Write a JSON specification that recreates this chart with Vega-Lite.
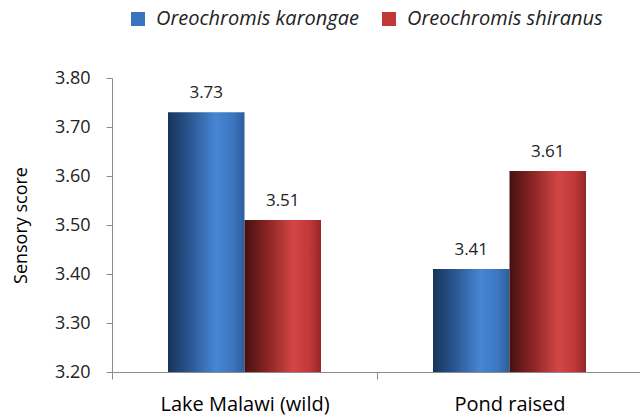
{
  "$schema": "https://vega.github.io/schema/vega-lite/v6.json",
  "width": 530,
  "height": 294,
  "autosize": {"type": "none"},
  "padding": {"left": 112, "top": 78, "right": 0, "bottom": 45},
  "config": {
    "view": {"stroke": null},
    "font": "Open Sans",
    "axis": {"grid": false, "domainColor": "#8c8c8c", "tickColor": "#8c8c8c", "labelColor": "#222222", "titleColor": "#000000"}
  },
  "data": {"values": [
    {"group": "Lake Malawi (wild)", "species": "Oreochromis karongae", "score": 3.73},
    {"group": "Lake Malawi (wild)", "species": "Oreochromis shiranus", "score": 3.51},
    {"group": "Pond raised", "species": "Oreochromis karongae", "score": 3.41},
    {"group": "Pond raised", "species": "Oreochromis shiranus", "score": 3.61}
  ]},
  "encoding": {
    "x": {"field": "group", "type": "nominal", "title": null, "sort": null,
      "scale": {"paddingInner": 0, "paddingOuter": 0},
      "axis": {"labelAngle": 0, "labelFontSize": 20, "labelColor": "#000000", "tickBand": "extent", "tickSize": 7, "labelPadding": 15}},
    "xOffset": {"field": "species", "type": "nominal", "scale": {"paddingOuter": 0.732, "paddingInner": 0}},
    "y": {"field": "score", "type": "quantitative", "title": "Sensory score",
      "scale": {"domain": [3.2, 3.8], "zero": false, "nice": false},
      "axis": {"values": [3.2, 3.3, 3.4, 3.5, 3.6, 3.7, 3.8], "format": ".2f", "labelFontSize": 18, "tickSize": 6, "labelPadding": 16, "titleFontSize": 18, "titleFontWeight": "normal", "titlePadding": 24}}
  },
  "layer": [
    {
      "mark": {"type": "bar", "clip": true},
      "encoding": {
        "fill": {
          "condition": {"test": "datum.species === 'Oreochromis karongae'",
            "value": {"gradient": "linear", "x1": 0, "y1": 0, "x2": 1, "y2": 0, "stops": [
              {"offset": 0, "color": "#17345a"}, {"offset": 0.3, "color": "#2c5894"}, {"offset": 0.62, "color": "#4686d4"}, {"offset": 0.85, "color": "#3c76c0"}, {"offset": 1, "color": "#2d5e9c"}]}},
          "value": {"gradient": "linear", "x1": 0, "y1": 0, "x2": 1, "y2": 0, "stops": [
            {"offset": 0, "color": "#461010"}, {"offset": 0.3, "color": "#8a2424"}, {"offset": 0.64, "color": "#d44646"}, {"offset": 0.85, "color": "#c03838"}, {"offset": 1, "color": "#962626"}]}
        }
      }
    },
    {
      "mark": {"type": "point", "opacity": 0, "shape": "square", "filled": true},
      "encoding": {
        "color": {"field": "species", "type": "nominal", "scale": {"range": ["#3a74c0", "#c03838"]},
          "legend": {"title": null, "orient": "none", "direction": "horizontal", "legendX": 16, "legendY": -69,
            "labelFontSize": 20, "labelFontStyle": "italic", "labelColor": "#222222", "labelLimit": 400, "symbolType": "square", "symbolSize": 196, "symbolOpacity": 1, "symbolStrokeWidth": 0, "columnPadding": 20, "labelOffset": 8}}
      }
    },
    {
      "mark": {"type": "text", "baseline": "bottom", "dy": -10, "fontSize": 17, "color": "#222222"},
      "encoding": {"text": {"field": "score", "type": "quantitative", "format": ".2f"}}
    }
  ]
}
